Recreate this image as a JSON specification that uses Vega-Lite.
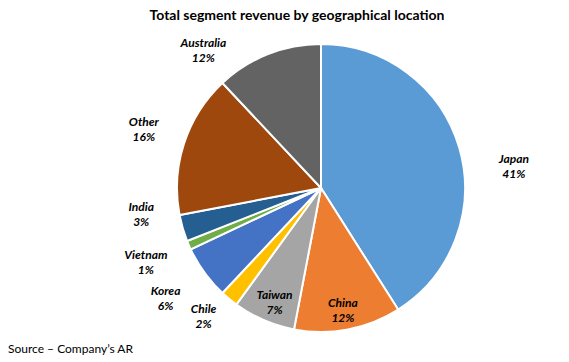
{
  "$schema": "https://vega.github.io/schema/vega-lite/v6.json",
  "padding": {"left": 8, "top": 8, "right": 0, "bottom": 0},
  "title": {
    "text": "Total segment revenue by geographical location",
    "font": "Lato",
    "fontSize": 14,
    "fontWeight": "bold",
    "color": "#000000",
    "anchor": "middle",
    "frame": "group",
    "dx": -24,
    "offset": 14
  },
  "data": {
    "values": [
      {"region": "Japan", "share": 41, "order": 1},
      {"region": "China", "share": 12, "order": 2},
      {"region": "Taiwan", "share": 7, "order": 3},
      {"region": "Chile", "share": 2, "order": 4},
      {"region": "Korea", "share": 6, "order": 5},
      {"region": "Vietnam", "share": 1, "order": 6},
      {"region": "India", "share": 3, "order": 7},
      {"region": "Other", "share": 16, "order": 8},
      {"region": "Australia", "share": 12, "order": 9}
    ]
  },
  "vconcat": [
    {
      "width": 496,
      "height": 290,
      "title": {
        "text": "Source – Company’s AR",
        "orient": "bottom",
        "anchor": "start",
        "font": "Lato",
        "fontSize": 12,
        "fontWeight": "normal",
        "color": "#000000",
        "dx": -65,
        "offset": 8
      },
      "transform": [
        {"window": [{"op": "sum", "field": "share", "as": "cum"}], "sort": [{"field": "order"}], "frame": [null, 0]},
        {"calculate": "datum.cum - datum.share / 2", "as": "mid"},
        {"calculate": "datum.region + '\\n' + datum.share + '%'", "as": "label"}
      ],
      "layer": [
        {
          "mark": {"type": "arc", "outerRadius": 144, "stroke": "#ffffff", "strokeWidth": 2},
          "encoding": {
            "theta": {"field": "share", "type": "quantitative", "stack": true, "scale": {"domain": [0, 100]}},
            "order": {"field": "order", "type": "quantitative"},
            "color": {
              "field": "region",
              "type": "nominal",
              "legend": null,
              "scale": {
                "domain": ["Japan", "China", "Taiwan", "Chile", "Korea", "Vietnam", "India", "Other", "Australia"],
                "range": ["#5B9BD5", "#ED7D31", "#A5A5A5", "#FFC000", "#4472C4", "#70AD47", "#255E91", "#9E480E", "#636363"]
              }
            }
          }
        },
        {
          "transform": [{"filter": "indexof(['China','Taiwan'], datum.region) >= 0"}],
          "mark": {"type": "text", "radius": 117, "font": "Lato", "fontSize": 12, "fontWeight": "bold", "fontStyle": "italic", "lineBreak": "\n", "lineHeight": 15, "color": "#000000"},
          "encoding": {
            "theta": {"field": "mid", "type": "quantitative", "stack": null},
            "text": {"field": "label"}
          }
        },
        {
          "transform": [{"filter": "datum.region == 'Japan'"}],
          "mark": {"type": "text", "radius": 181, "dx": 19, "dy": 21, "font": "Lato", "fontSize": 12, "fontWeight": "bold", "fontStyle": "italic", "lineBreak": "\n", "lineHeight": 15, "color": "#000000"},
          "encoding": {
            "theta": {"field": "mid", "type": "quantitative", "stack": null},
            "text": {"field": "label"}
          }
        },
        {
          "transform": [{"filter": "datum.region == 'Australia'"}],
          "mark": {"type": "text", "radius": 181, "dx": -51, "dy": 23, "font": "Lato", "fontSize": 12, "fontWeight": "bold", "fontStyle": "italic", "lineBreak": "\n", "lineHeight": 15, "color": "#000000"},
          "encoding": {
            "theta": {"field": "mid", "type": "quantitative", "stack": null},
            "text": {"field": "label"}
          }
        },
        {
          "transform": [{"filter": "datum.region == 'Other'"}],
          "mark": {"type": "text", "radius": 181, "dx": -5, "dy": -10, "font": "Lato", "fontSize": 12, "fontWeight": "bold", "fontStyle": "italic", "lineBreak": "\n", "lineHeight": 15, "color": "#000000"},
          "encoding": {
            "theta": {"field": "mid", "type": "quantitative", "stack": null},
            "text": {"field": "label"}
          }
        },
        {
          "transform": [{"filter": "datum.region == 'India'"}],
          "mark": {"type": "text", "radius": 181, "dx": -6, "dy": -31, "font": "Lato", "fontSize": 12, "fontWeight": "bold", "fontStyle": "italic", "lineBreak": "\n", "lineHeight": 15, "color": "#000000"},
          "encoding": {
            "theta": {"field": "mid", "type": "quantitative", "stack": null},
            "text": {"field": "label"}
          }
        },
        {
          "transform": [{"filter": "datum.region == 'Vietnam'"}],
          "mark": {"type": "text", "radius": 181, "dx": -9, "dy": -5, "font": "Lato", "fontSize": 12, "fontWeight": "bold", "fontStyle": "italic", "lineBreak": "\n", "lineHeight": 15, "color": "#000000"},
          "encoding": {
            "theta": {"field": "mid", "type": "quantitative", "stack": null},
            "text": {"field": "label"}
          }
        },
        {
          "transform": [{"filter": "datum.region == 'Korea'"}],
          "mark": {"type": "text", "radius": 181, "dx": -9, "dy": -3, "font": "Lato", "fontSize": 12, "fontWeight": "bold", "fontStyle": "italic", "lineBreak": "\n", "lineHeight": 15, "color": "#000000"},
          "encoding": {
            "theta": {"field": "mid", "type": "quantitative", "stack": null},
            "text": {"field": "label"}
          }
        },
        {
          "transform": [{"filter": "datum.region == 'Chile'"}],
          "mark": {"type": "text", "radius": 181, "dx": -2, "dy": -18, "font": "Lato", "fontSize": 12, "fontWeight": "bold", "fontStyle": "italic", "lineBreak": "\n", "lineHeight": 15, "color": "#000000"},
          "encoding": {
            "theta": {"field": "mid", "type": "quantitative", "stack": null},
            "text": {"field": "label"}
          }
        }
      ]
    }
  ],
  "config": {"view": {"stroke": null}}
}
